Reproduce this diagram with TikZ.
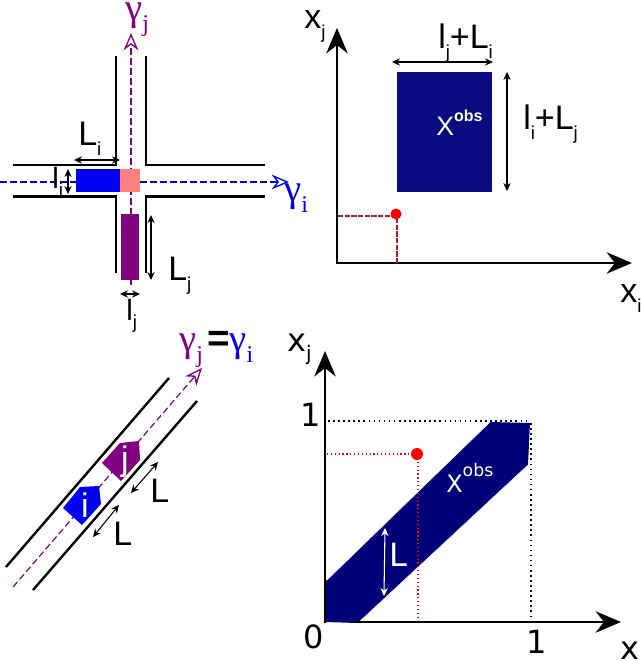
\documentclass[tikz,border=0pt]{standalone}
\usepackage{fontspec}
\usetikzlibrary{arrows.meta}
\setmainfont{DejaVu Sans}
\newfontfamily\gam{Liberation Serif}
\newfontfamily\hel{Liberation Sans}
\definecolor{navy}{RGB}{10,10,130}
\definecolor{navyb}{RGB}{0,0,120}
\definecolor{pur}{RGB}{128,0,128}
\definecolor{blu}{RGB}{0,0,240}
\definecolor{pinkr}{RGB}{255,128,128}
\definecolor{brownred}{RGB}{170,30,40}
\newcommand{\sbt}[2][14]{\raisebox{-.3em}{\fontsize{#1}{#1}\selectfont #2}}
\newcommand{\spt}[3][13]{\raisebox{#2}{\fontsize{#1}{#1}\selectfont #3}}
\tikzset{
  road/.style={line width=1.8pt},
  dim/.style={line width=0.8pt,{Stealth[length=6pt,width=5.5pt]}-{Stealth[length=6pt,width=5.5pt]}},
  axis/.style={line width=1.8pt,-{Stealth[length=19pt,width=16pt]}},
  dashpur/.style={pur,line width=0.9pt,dash pattern=on 5pt off 2.5pt},
  dashblu/.style={blu,line width=0.9pt,dash pattern=on 5pt off 2.5pt},
  gtip/.style={-{Stealth[length=13pt,width=11pt,open,line width=1pt]}},
  lbl/.style={inner sep=0pt,anchor=base west,font=\hel\fontsize{25.5}{25.5}\selectfont},
  lbls/.style={lbl,font=\hel\fontsize{22}{22}\selectfont},
  dv/.style={inner sep=0pt,anchor=base west,font=\fontsize{24}{24}\selectfont},
  gl/.style={inner sep=0pt,anchor=base west,font=\gam\fontsize{29}{29}\selectfont},
  redd/.style={red,line width=0.9pt,dotted},
  bdot/.style={black,line width=1.2pt,dash pattern=on 1.2pt off 2.6pt},
}
\begin{document}
\begin{tikzpicture}[x=0.75pt,y=-0.75pt]
\useasboundingbox (0,0) rectangle (640,661);
% --- top-left crossing
\fill[blu] (76,169) rectangle (120,192);
\fill[pur] (120.5,214) rectangle (139,280);
\draw[dashpur,gtip] (131,285) -- (131,33);
\draw[dashblu,gtip] (0,182) -- (289,182);
\fill[pinkr] (120,169) rectangle (139.5,192);
\draw[road] (116,56) -- (116,165) -- (13,165);
\draw[road] (146,56) -- (146,165) -- (265,165);
\draw[road] (13,196.5) -- (116,196.5) -- (116,273);
\draw[road] (265,196.5) -- (146,196.5) -- (146,273);
\draw[dim] (74,160) -- (120,160);
\draw[dim] (68,169) -- (68,194);
\draw[dim] (151,215) -- (151,280);
\draw[dim] (120,294) -- (140,294);
\node[gl,pur] (gj) at (125,20) {γ\sbt[18]{j}};
\node[gl,blu] (gi) at (284,201) {γ\sbt[18]{i}};
\node[lbl] (Li) at (78,145) {L\sbt{i}};
\node[lbl] (Lj) at (168,280) {L\sbt{j}};
\node[lbls] (li) at (52,188) {l\sbt{i}};
\node[lbls] (lj) at (126,320) {l\sbt{j}};
% --- top-right plot
\draw[axis] (337,263.5) -- (337,28);
\draw[axis] (336,263) -- (632,263);
\fill[navy] (397,72) rectangle (492,192);
\draw[dim] (392,62) -- (493,62);
\draw[dim] (507,72) -- (507,191);
\draw[brownred,line width=0.9pt,dash pattern=on 4pt off 1pt] (338,216) -- (396,216);
\draw[brownred,line width=0.9pt,dash pattern=on 4pt off 1pt] (397,218) -- (397,263);
\fill[red] (396,214) circle (5.5);
\node[lbl] (xj1) at (304,28) {x\sbt{j}};
\node[lbl] (xi1) at (620,302) {x\sbt{i}};
\node[lbl] (s1) at (438,48) {l\sbt{j}+L\sbt{i}};
\node[lbl] (s2) at (523,129) {l\sbt{i}+L\sbt{j}};
\node[lbl,white,font=\hel\fontsize{20}{20}\selectfont] (xo1) at (436,135) {X\spt[12]{10pt}{\textbf{obs}}};
% --- bottom-left road
\draw[road] (6,567) -- (169,378);
\draw[road] (33,590) -- (197,401);
\draw[dashpur,gtip] (13,587) -- (202,368);
\fill[blu] (99,486) -- (80,487) -- (63,508) -- (82,525) -- (101,504) -- cycle;
\fill[pur] (139,441) -- (120,443) -- (102,463) -- (121,481) -- (140,460) -- cycle;
\node[lbl,white,anchor=center] (ci) at (85,505) {i};
\node[lbl,white,anchor=center] (cj) at (125,462) {j};
\draw[dim] (131,493) -- (158,462);
\draw[dim] (93,537) -- (119,505);
\node[lbl] (L1) at (150,502) {L};
\node[lbl] (L2) at (113,545) {L};
\node[gl] (geq) at (179,351) {\textcolor{pur}{γ\sbt[18]{j}}\hspace{3pt}{\hel\bfseries =}\textcolor{blu}{γ\sbt[18]{i}}};
% --- bottom-right plot
\fill[navyb] (324,581) -- (325,622) -- (358,623) -- (528,465) -- (530,423) -- (490,422) -- (327,580) -- cycle;
\draw[white,line width=0.4pt] (327,580) -- (490,422);
\draw[white,line width=0.4pt] (358,623) -- (528,465);
\draw[axis] (325,623) -- (325,351);
\draw[axis] (355,622) -- (621,622);
\draw[bdot] (328,421) -- (530,421);
\draw[bdot] (531,423) -- (531,617);
\draw[redd] (327,454) -- (415,454);
\draw[redd] (418,458) -- (418,620);
\fill[red] (417,454) circle (6);
\draw[white,line width=0.8pt,{Stealth[length=6pt,width=5.5pt]}-{Stealth[length=6pt,width=5.5pt]}] (385,528) -- (384,596);
\node[dv,white] (Lw) at (389,566) {L};
\node[dv,white,font=\fontsize{18}{18}\selectfont] (xo2) at (446,492) {X\spt[13]{12pt}{obs}};
\node[dv] (xj2) at (287,351) {x\sbt[15]{j}};
\node[dv] (x2) at (620,659) {x};
\node[dv] (one1) at (300,426) {1};
\node[dv] (zero) at (303,648) {0};
\node[dv] (one2) at (526,653) {1};
\end{tikzpicture}
\end{document}
